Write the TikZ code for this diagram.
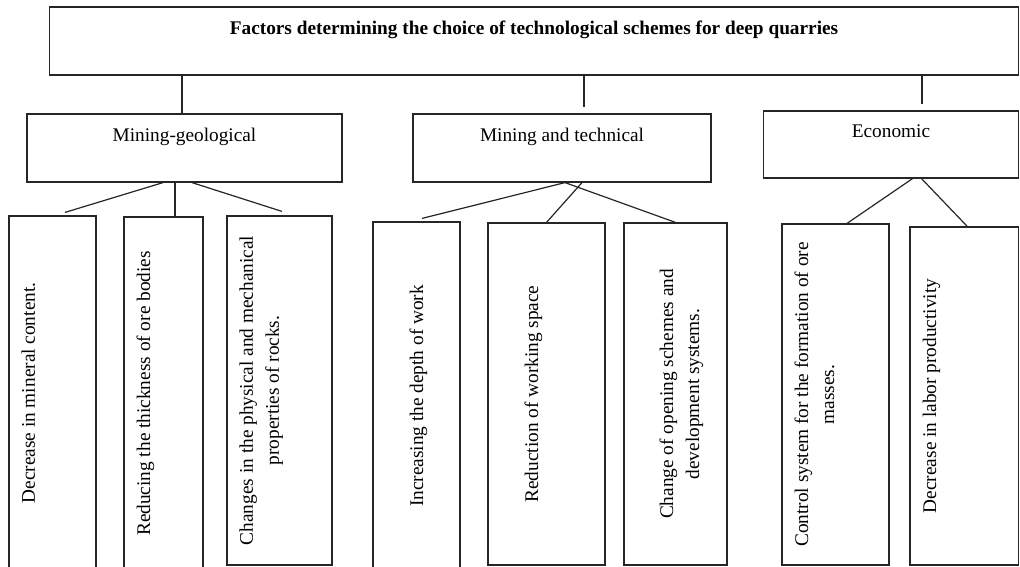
\documentclass[tikz,border=0pt]{standalone}
\usepackage{fontspec}
\setmainfont{Liberation Serif}
\tikzset{
  box/.style={draw=black!85, line width=1.2pt, inner sep=0pt},
  headbox/.style={box, align=center, font=\fontsize{19.3}{20}\selectfont},
  leaftext/.style={rotate=90, anchor=north, inner sep=0pt, align=center, font=\fontsize{19.3}{26}\selectfont},
  link/.style={draw=black!85, line width=1.2pt},
}
\begin{document}
\begin{tikzpicture}[x=1pt,y=-1pt]
\useasboundingbox (0,0) rectangle (1020,566);
\node[headbox, minimum width=969pt, minimum height=68pt, font=\fontsize{19.3}{20}\selectfont\bfseries] (top) at (534,41) {Factors determining the choice of technological schemes for deep quarries\\\strut};
\node[headbox, minimum width=315pt, minimum height=68pt] (mg) at (184.5,148) {Mining-geological\\\strut};
\node[headbox, minimum width=298pt, minimum height=68pt] (mt) at (562,148) {Mining and technical\\\strut};
\node[headbox, minimum width=255pt, minimum height=67pt] (ec) at (891,144.5) {Economic\\\strut};
\node[box, minimum width=87pt, minimum height=354pt] (l1) at (52.5,393) {};
\node[box, minimum width=79pt, minimum height=353pt] (l2) at (163.5,393.5) {};
\node[box, minimum width=105pt, minimum height=349pt] (l3) at (279.5,390.5) {};
\node[box, minimum width=87pt, minimum height=348pt] (l4) at (416.5,396) {};
\node[box, minimum width=117pt, minimum height=342pt] (l5) at (546.5,394) {};
\node[box, minimum width=103pt, minimum height=342pt] (l6) at (675.5,394) {};
\node[box, minimum width=107pt, minimum height=341pt] (l7) at (835.5,394.5) {};
\node[box, minimum width=108.5pt, minimum height=338pt] (l8) at (964.25,396) {};
\node[leaftext] (t1) at ([xshift=13pt]l1.west) {Decrease in mineral content.};
\node[leaftext] (t2) at ([xshift=13pt]l2.west) {Reducing the thickness of ore bodies};
\node[leaftext] (t3) at ([xshift=13pt]l3.west) {Changes in the physical and mechanical\\properties of rocks.};
\node[leaftext] (t4) at ([xshift=37pt]l4.west) {Increasing the depth of work};
\node[leaftext] (t5) at ([xshift=37pt]l5.west) {Reduction of working space};
\node[leaftext] (t6) at ([xshift=36pt]l6.west) {Change of opening schemes and\\development systems.};
\node[leaftext] (t7) at ([xshift=13pt]l7.west) {Control system for the formation of ore\\masses.};
\node[leaftext] (t8) at ([xshift=13pt]l8.west) {Decrease in labor productivity};
\draw[link] ([xshift=-2.5pt]mg.north |- top.south) -- ([xshift=-2.5pt]mg.north);
\draw[link] ([xshift=22pt]mt.north |- top.south) -- ([xshift=22pt,yshift=6pt]mt.north);
\draw[link] ([xshift=31pt]ec.north |- top.south) -- ([xshift=31pt,yshift=6pt]ec.north);
\draw[link] ([xshift=-21.5pt]mg.south) -- ([xshift=12.5pt,yshift=3pt]l1.north);
\draw[link] ([xshift=-9.5pt]mg.south) -- ([xshift=11.5pt]l2.north);
\draw[link] ([xshift=7.5pt]mg.south) -- ([xshift=2.5pt,yshift=4pt]l3.north);
\draw[link] ([xshift=3pt]mt.south) -- ([xshift=5.5pt,yshift=3pt]l4.north);
\draw[link] ([xshift=20pt]mt.south) -- (l5.north);
\draw[link] ([xshift=3pt]mt.south) -- (l6.north);
\draw[link] ([xshift=21.5pt]ec.south) -- ([xshift=11.5pt]l7.north);
\draw[link] ([xshift=30.5pt]ec.south) -- ([xshift=3pt]l8.north);
\end{tikzpicture}
\end{document}
